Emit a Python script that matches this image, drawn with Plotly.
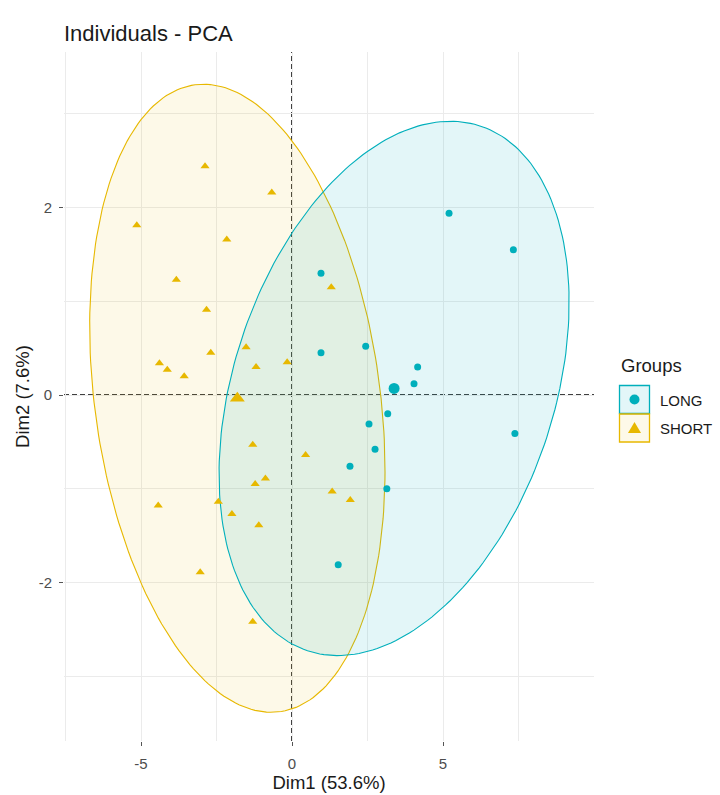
import numpy as np
import plotly.graph_objects as go

# ---------------- data ----------------
groups = ["LONG", "SHORT"]
group_colors = ["#00AFBB", "#E7B800"]
group_fills = ["rgba(0,175,187,0.11)", "rgba(231,184,0,0.09)"]

long_dim1 = [5.20, 7.33, 0.96, 0.96, 2.44, 4.16, 4.04, 3.17, 2.55, 2.75, 1.92, 3.14, 1.53, 7.38]
long_dim2 = [1.94, 1.55, 1.30, 0.45, 0.52, 0.30, 0.12, -0.20, -0.31, -0.58, -0.76, -1.00, -1.81, -0.41]

short_dim1 = [-2.88, -0.67, -5.14, -2.16, -3.83, 1.30, -2.83, -1.52, -2.69, -0.16, -4.39, -1.19, -4.13,
              -3.57, -1.30, 0.45, -0.88, -1.22, -2.44, -4.43, -1.99, -1.10, 1.33, 1.93, -3.04, -1.30]
short_dim2 = [2.44, 2.16, 1.81, 1.66, 1.23, 1.15, 0.91, 0.51, 0.45, 0.35, 0.34, 0.30, 0.27,
              0.20, -0.53, -0.64, -0.89, -0.95, -1.14, -1.18, -1.27, -1.39, -1.03, -1.12, -1.89, -2.42]

# group centres (big symbols) and ellipse shape parameters (conjugate form)
center_dim1 = [3.38, -1.81]
center_dim2 = [0.07, -0.035]
ellipse_a = [5.49, 4.76]
ellipse_b = [1.86, -1.12]
ellipse_d = [2.85, 3.35]

x_tickvals = [-5, 0, 5]
x_ticktext = ["-5", "0", "5"]
y_tickvals = [-2, 0, 2]
y_ticktext = ["-2", "0", "2"]
x_minor = [-7.5, -2.5, 2.5, 7.5]
y_minor = [-3, -1, 1, 3]

title_text = "Individuals - PCA"
x_title = "Dim1 (53.6%)"
y_title = "Dim2 (7.6%)"
legend_title = "Groups"

# ---------------- figure ----------------
FONT = "Liberation Sans, Arial, sans-serif"
W, H = 720, 795
ML, MR, MT, MB = 64, 126, 52, 54
PW, PH = W - ML - MR, H - MT - MB

fig = go.Figure()

t = np.linspace(0, 2 * np.pi, 240)
for i in [1, 0]:
    ex = center_dim1[i] + ellipse_a[i] * np.cos(t) + ellipse_b[i] * np.sin(t)
    ey = center_dim2[i] + ellipse_d[i] * np.sin(t)
    fig.add_trace(go.Scatter(x=ex, y=ey, mode="lines", fill="toself",
                             fillcolor=group_fills[i],
                             line=dict(color=group_colors[i], width=1.1),
                             hoverinfo="skip", showlegend=False))

fig.add_trace(go.Scatter(x=long_dim1, y=long_dim2, mode="markers", name=groups[0],
                         marker=dict(symbol="circle", size=7, color=group_colors[0]),
                         showlegend=False))
fig.add_trace(go.Scatter(x=short_dim1, y=short_dim2, mode="markers", name=groups[1],
                         marker=dict(symbol="triangle-up", size=8, color=group_colors[1]),
                         showlegend=False))
fig.add_trace(go.Scatter(x=center_dim1[:1], y=center_dim2[:1], mode="markers",
                         marker=dict(symbol="circle", size=11, color=group_colors[0]),
                         showlegend=False))
fig.add_trace(go.Scatter(x=center_dim1[1:], y=center_dim2[1:], mode="markers",
                         marker=dict(symbol="triangle-up", size=13, color=group_colors[1]),
                         showlegend=False))

grid = "#ebebeb"
fig.update_xaxes(range=[-7.55, 10.0], tickvals=x_tickvals, ticktext=x_ticktext, automargin=False,
                 showgrid=True, gridcolor=grid, gridwidth=1.2, zeroline=False, showline=False,
                 ticks="outside", ticklen=4, tickcolor="#555555", tickwidth=1,
                 ticklabelstandoff=5,
                 tickfont=dict(family=FONT, size=15, color="#4d4d4d"),
                 minor=dict(tickvals=x_minor, showgrid=True, gridcolor=grid, gridwidth=0.7, ticks=""),
                 title=dict(text=x_title, font=dict(family=FONT, size=18.5, color="#1a1a1a"), standoff=4))
fig.update_yaxes(range=[-3.691, 3.659], tickvals=y_tickvals, ticktext=y_ticktext, automargin=False,
                 showgrid=True, gridcolor=grid, gridwidth=1.2, zeroline=False, showline=False,
                 ticks="outside", ticklen=4, tickcolor="#555555", tickwidth=1,
                 ticklabelstandoff=4,
                 tickfont=dict(family=FONT, size=15, color="#4d4d4d"),
                 minor=dict(tickvals=y_minor, showgrid=True, gridcolor=grid, gridwidth=0.7, ticks=""),
                 title=dict(text=y_title, font=dict(family=FONT, size=18.5, color="#1a1a1a"), standoff=4))

def pxx(X):
    return (X - ML) / PW

def pxy(Y):
    return (H - MB - Y) / PH

shapes = [
    dict(type="line", xref="x", yref="paper", x0=0, x1=0, y0=0, y1=1,
         line=dict(color="black", width=1.5, dash="5px,3px"), layer="between"),
    dict(type="line", xref="paper", yref="y", x0=0, x1=1, y0=0, y1=0,
         line=dict(color="black", width=1.5, dash="5px,3px"), layer="between"),
]

# legend keys (manual, ggplot style)
key_tops = [385.5, 414.0]
for i in range(2):
    shapes.append(dict(type="rect", xref="paper", yref="paper",
                       x0=pxx(619.5), x1=pxx(649.5), y0=pxy(key_tops[i] + 28), y1=pxy(key_tops[i]),
                       fillcolor=group_fills[i], line=dict(color=group_colors[i], width=1.3)))
shapes.append(dict(type="circle", xref="paper", yref="paper", xsizemode="pixel", ysizemode="pixel",
                   xanchor=pxx(634.5), yanchor=pxy(399.5), x0=-5, x1=5, y0=-5, y1=5,
                   fillcolor=group_colors[0], line=dict(width=0)))
shapes.append(dict(type="path", xref="paper", yref="paper", xsizemode="pixel", ysizemode="pixel",
                   xanchor=pxx(634.5), yanchor=pxy(428.0),
                   path="M -6.5 -5 L 6.5 -5 L 0 6 Z",
                   fillcolor=group_colors[1], line=dict(width=0)))
fig.update_layout(shapes=shapes)

annotations = [
    dict(text=legend_title, xref="paper", yref="paper", x=pxx(619), y=pxy(365),
         xanchor="left", yanchor="middle", showarrow=False,
         font=dict(family=FONT, size=18.5, color="#1a1a1a")),
    dict(text=groups[0], xref="paper", yref="paper", x=pxx(658), y=pxy(400),
         xanchor="left", yanchor="middle", showarrow=False,
         font=dict(family=FONT, size=15, color="#1a1a1a")),
    dict(text=groups[1], xref="paper", yref="paper", x=pxx(658), y=pxy(428.5),
         xanchor="left", yanchor="middle", showarrow=False,
         font=dict(family=FONT, size=15, color="#1a1a1a")),
]
fig.update_layout(annotations=annotations)

fig.update_layout(
    width=W, height=H,
    margin=dict(l=ML, r=MR, t=MT, b=MB, autoexpand=False),
    paper_bgcolor="white", plot_bgcolor="white",
    title=dict(text=title_text, x=ML / W, xanchor="left", xref="container",
               y=1 - 33 / H, yanchor="middle", yref="container",
               font=dict(family=FONT, size=22, color="#1a1a1a")),
    showlegend=False,
)

fig.write_html("out.html", config={"displayModeBar": False},
               post_script="document.body.style.margin='0';document.body.style.overflow='hidden';")
